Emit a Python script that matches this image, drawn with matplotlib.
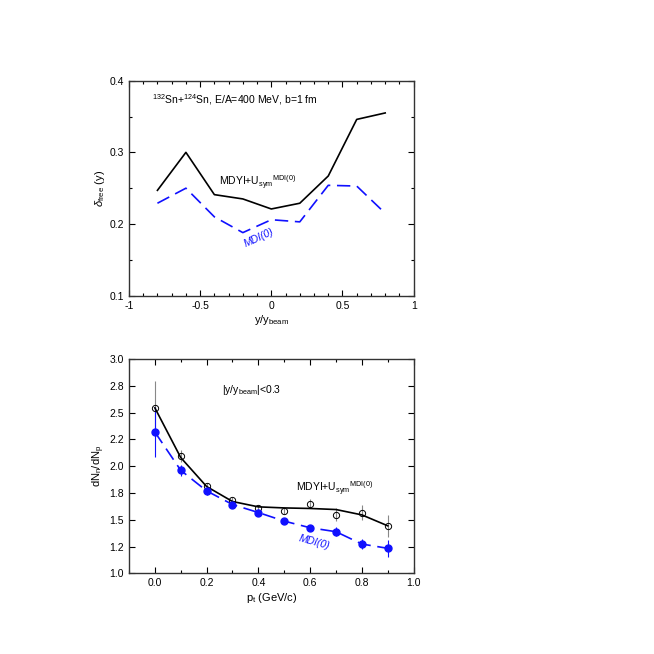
import matplotlib
matplotlib.use('Agg')
import matplotlib.pyplot as plt
from matplotlib.ticker import MultipleLocator, FormatStrFormatter

plt.rcParams['font.family'] = ['Liberation Sans', 'DejaVu Sans']
plt.rcParams['mathtext.fontset'] = 'custom'
plt.rcParams['mathtext.rm'] = 'Liberation Sans'
plt.rcParams['mathtext.it'] = 'Liberation Sans:italic'

# Top panel: delta_free vs rapidity
y_rap = [-0.8, -0.6, -0.4, -0.2, 0.0, 0.2, 0.4, 0.6, 0.8]
delta_mdyi = [0.247, 0.300, 0.241, 0.235, 0.221, 0.229, 0.267, 0.346, 0.355]
delta_mdi0 = [0.229, 0.250, 0.210, 0.188, 0.206, 0.203, 0.254, 0.253, 0.215]

# Bottom panel: dNn/dNp vs pt
pt = [0.0, 0.1, 0.2, 0.3, 0.4, 0.5, 0.6, 0.7, 0.8, 0.9]
ratio_mdyi = [2.544, 2.095, 1.816, 1.682, 1.605, 1.583, 1.651, 1.546, 1.567, 1.443]
err_mdyi = [0.25, 0.06, 0.03, 0.03, 0.03, 0.03, 0.04, 0.06, 0.07, 0.10]
curve_mdyi = [2.544, 2.08, 1.81, 1.67, 1.62, 1.61, 1.605, 1.595, 1.545, 1.443]
ratio_mdi0 = [2.318, 1.961, 1.769, 1.642, 1.567, 1.487, 1.425, 1.388, 1.273, 1.233]
err_mdi0 = [0.23, 0.05, 0.04, 0.03, 0.03, 0.02, 0.03, 0.04, 0.05, 0.08]

blue = '#1010ff'

fig = plt.figure(figsize=(6.54, 6.54), dpi=100)
ax1 = fig.add_axes([0.1972, 0.5479, 0.4353, 0.3287])
ax2 = fig.add_axes([0.1972, 0.1234, 0.4353, 0.3277])

# top
ax1.plot(y_rap, delta_mdyi, color='black', lw=1.2)
ax1.plot(y_rap, delta_mdi0, color=blue, lw=1.2, dashes=(8, 4))
ax1.set_xlim(-1, 1)
ax1.set_ylim(0.1, 0.4)
ax1.xaxis.set_major_locator(MultipleLocator(0.5))
ax1.xaxis.set_minor_locator(MultipleLocator(0.1))
ax1.yaxis.set_major_locator(MultipleLocator(0.1))
ax1.yaxis.set_minor_locator(MultipleLocator(0.05))
ax1.xaxis.set_major_formatter(FormatStrFormatter('%g'))
ax1.set_xlabel(r'y/y$_{\mathrm{beam}}$', fontsize=8, labelpad=2)
ax1.set_ylabel(r'$\delta_{\mathrm{free}}$ (y)', fontsize=8, labelpad=2)
ax1.text(-0.84, 0.373, r'$^{132}$Sn+$^{124}$Sn, E/A=400 MeV, b=1 fm', fontsize=7.5, va='center')
ax1.text(-0.37, 0.257, r'MDYI+U$_{\mathrm{sym}}$$^{\mathrm{MDI(0)}}$', fontsize=7.5, va='center')
ax1.text(-0.09, 0.181, 'MDI(0)', fontsize=7.5, color=blue, style='italic',
         rotation=25, ha='center', va='center')

# bottom
ax2.errorbar(pt, ratio_mdyi, yerr=err_mdyi, fmt='none', ecolor='#888888', elinewidth=0.8)
ax2.errorbar(pt, ratio_mdi0, yerr=err_mdi0, fmt='none', ecolor=blue, elinewidth=0.8)
ax2.plot(pt, curve_mdyi, color='black', lw=1.2)
ax2.plot(pt, ratio_mdi0, color=blue, lw=1.2, dashes=(8, 4))
ax2.plot(pt, ratio_mdyi, 'o', mfc='none', mec='black', ms=4.5, mew=0.7)
ax2.plot(pt, ratio_mdi0, 'o', color=blue, ms=5)
ax2.set_xlim(-0.1, 1.0)
ax2.set_ylim(1.0, 3.0)
ax2.xaxis.set_major_locator(MultipleLocator(0.2))
ax2.xaxis.set_minor_locator(MultipleLocator(0.1))
ax2.yaxis.set_major_locator(MultipleLocator(0.25))
ax2.xaxis.set_major_formatter(FormatStrFormatter('%.1f'))
ax2.yaxis.set_major_formatter(FormatStrFormatter('%.1f'))
ax2.set_xlabel(r'p$_{\mathrm{t}}$ (GeV/c)', fontsize=8, labelpad=2)
ax2.set_ylabel(r'dN$_{\mathrm{n}}$/dN$_{\mathrm{p}}$', fontsize=8, labelpad=2)
ax2.text(0.26, 2.71, r'|y/y$_{\mathrm{beam}}$|<0.3', fontsize=7.5, va='center')
ax2.text(0.545, 1.79, r'MDYI+U$_{\mathrm{sym}}$$^{\mathrm{MDI(0)}}$', fontsize=7.5, va='center')
ax2.text(0.615, 1.285, 'MDI(0)', fontsize=7.5, color=blue, style='italic',
         rotation=-15, ha='center', va='center')

for ax in (ax1, ax2):
    ax.tick_params(which='both', direction='in', top=True, right=True, labelsize=7.5, width=0.8)
    ax.tick_params(which='major', length=4)
    ax.tick_params(which='minor', length=2.5)
    for s in ax.spines.values():
        s.set_linewidth(1.0)
        s.set_color('#333333')

fig.savefig('out.png', dpi=100)
